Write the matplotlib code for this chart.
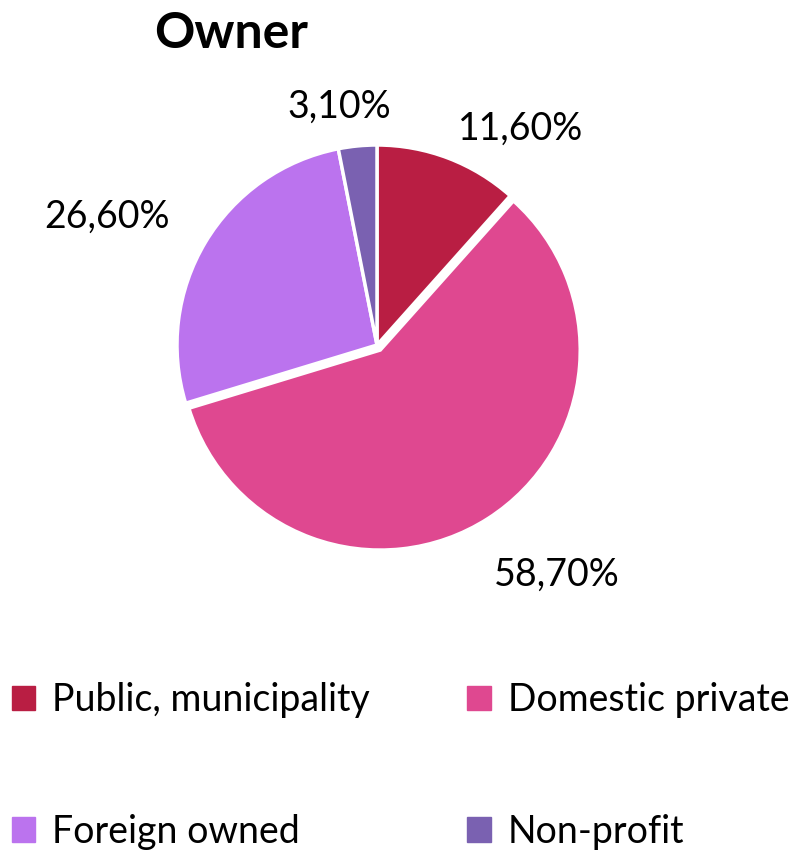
import matplotlib
matplotlib.use("Agg")
import matplotlib.pyplot as plt
from matplotlib.patches import Patch

plt.rcParams['font.family'] = ['Lato', 'DejaVu Sans']

categories = ["Public, municipality", "Domestic private", "Foreign owned", "Non-profit"]
values = [11.6, 58.7, 26.6, 3.1]
colors = ["#B91E43", "#DF4890", "#BB73EE", "#7A61B1"]
explode = [0, 0.03, 0, 0]
label_pos = [(0.72, 1.08), (0.90, -1.15), (-1.35, 0.64), (-0.19, 1.19)]

W, H = 811, 858
fig = plt.figure(figsize=(W / 100, H / 100), dpi=100)
cx, cy, r = 377, 345, 200
half = 260
ax = fig.add_axes([(cx - half) / W, (H - cy - half) / H, 2 * half / W, 2 * half / H])
wedges, _ = ax.pie(values, colors=colors, startangle=90, counterclock=False,
                   explode=explode, radius=1,
                   wedgeprops=dict(edgecolor="white", linewidth=2.5))
lim = half / r
ax.set_xlim(-lim, lim)
ax.set_ylim(-lim, lim)
ax.set_aspect('equal')
ax.axis('off')

for v, (lx, ly) in zip(values, label_pos):
    ax.text(lx, ly, f"{v:.2f}%".replace(".", ","), ha="center", va="center",
            fontsize=27, color="black")

fig.text(231 / W, 1 - 34 / H, "Owner", ha="center", va="center",
         fontsize=36, fontweight="bold")

# legend filled row-wise: reorder for matplotlib's column-major layout
order = [0, 2, 1, 3]
handles = [Patch(facecolor=colors[i], edgecolor=colors[i]) for i in order]
labels = [categories[i] for i in order]
leg = fig.legend(handles, labels, ncol=2, loc="upper left",
                 bbox_to_anchor=(12 / W, 1 - 682 / H), frameon=False,
                 fontsize=27, handlelength=0.62, handleheight=0.62,
                 handletextpad=0.45, columnspacing=2.6, labelspacing=2.55,
                 borderpad=0, borderaxespad=0)

fig.savefig("out.png", dpi=100, facecolor="white")
